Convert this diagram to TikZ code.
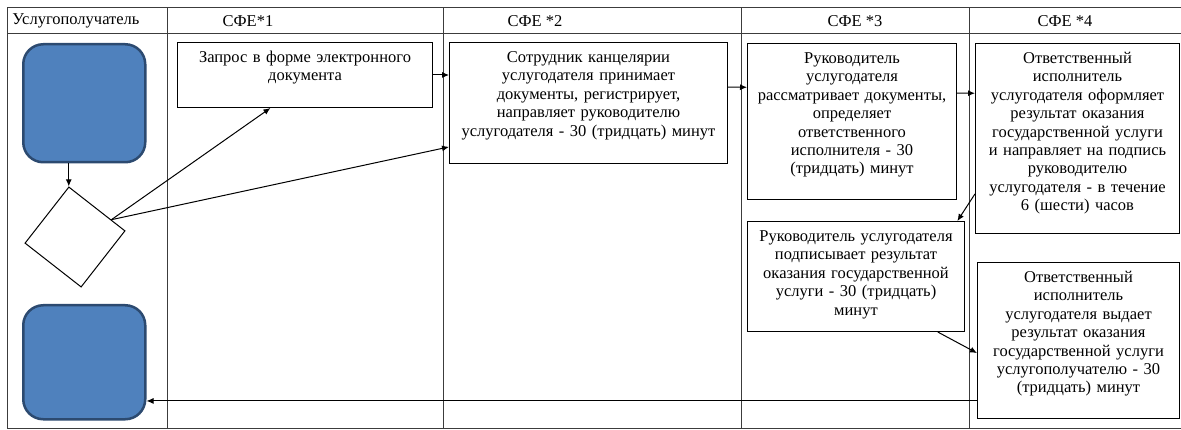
\documentclass[tikz,border=0pt]{standalone}
\usepackage{fontspec}
\setmainfont{Liberation Serif}
\usetikzlibrary{positioning,shapes.geometric,arrows.meta,calc}
\definecolor{fillblue}{RGB}{79,129,189}
\definecolor{lineblue}{RGB}{44,74,112}
\definecolor{gridgray}{RGB}{60,60,60}

\begin{document}
\begin{tikzpicture}[x=1pt, y=-1pt, line width=1pt, >={Latex[length=7pt,width=6pt]},
  every node/.style = {font=\fontsize{16.5pt}{18.4pt}\selectfont},
  main/.style = {draw, anchor=north west, align=center, inner xsep=4pt, inner ysep=9pt, text height=11pt},
  term/.style = {draw=lineblue, fill=fillblue, line width=2.5pt, rounded corners=20pt, anchor=north west, minimum width=122pt, minimum height=118pt},
  cond/.style = {draw, diamond, aspect=1, minimum size=101pt, rotate=7, inner sep=0pt},
  head/.style = {inner sep=0pt}]
\useasboundingbox (0,0) rectangle (1181,430);

\draw[gridgray] (7,8) -- (1181,8) (7,34) -- (1181,34) (7,428) -- (1181,428);
\foreach \x in {7,167,443,741,969} \draw[gridgray] (\x,8) -- (\x,428);

\node[head, anchor=west] (h0) at (12,21) {Услугополучатель};
\node[head] (h1) at (248,21) {СФЕ*1};
\node[head] (h2) at (535,21) {СФЕ *2};
\node[head] (h3) at (855,21) {СФЕ *3};
\node[head] (h4) at (1065,21) {СФЕ *4};

\node[term] (1) at (22,43) {};
\node[cond] (2) at (75,237) {};
\node[term, minimum height=114pt] (3) at (22,304) {};

\node[main, text width=247pt, text depth=36pt] (4) at (177,42) {Запрос в форме электронного\\документа};
\node[main, text width=270pt, text depth=92pt] (5) at (449,42) {Сотрудник канцелярии\\услугодателя принимает\\документы, регистрирует,\\направляет руководителю\\услугодателя - 30 (тридцать) минут};
\node[main, text width=201pt, text depth=127pt] (6) at (747,43) {Руководитель\\услугодателя\\рассматривает документы,\\определяет\\ответственного\\исполнителя - 30\\(тридцать) минут};
\node[main, text width=196pt, text depth=161pt] (7) at (975,43) {Ответственный\\исполнитель\\услугодателя оформляет\\результат оказания\\государственной услуги\\и направляет на подпись\\руководителю\\услугодателя - в течение\\6 (шести) часов};
\node[main, text width=209pt, text depth=81pt] (8) at (747,221) {Руководитель услугодателя\\подписывает результат\\оказания государственной\\услуги - 30 (тридцать)\\минут};
\node[main, text width=194pt, text depth=127pt] (9) at (977,262) {Ответственный\\исполнитель\\услугодателя выдает\\результат оказания\\государственной услуги\\услугополучателю - 30\\(тридцать) минут};

\draw[->] (1.south -| 2.north) -- (2.north);
\draw[->] ($(2.north)!0.75!(2.east)$) -- ($(4.south west)!0.365!(4.south east)$);
\draw[->] ($(2.north)!0.75!(2.east)$) -- ($(5.north west)!0.86!(5.south west)$);
\draw[->] (4.east) -- (4.east -| 5.west);
\draw[->] ($(5.north east)!0.37!(5.south east)$) -- ($(6.north west)!0.282!(6.south west)$);
\draw[->] ($(6.north east)!0.32!(6.south east)$) -- ($(7.north west)!0.263!(7.south west)$);
\draw[->] ($(7.north west)!0.79!(7.south west)$) -- ($(8.north west)!0.965!(8.north east)$);
\draw[->] ($(8.south west)!0.875!(8.south east)$) -- ($(9.north west)!0.58!(9.south west)$);
\draw[->] ($(9.north west)!0.885!(9.south west)$) coordinate (r) -- (r -| 3.east);

\end{tikzpicture}
\end{document}
